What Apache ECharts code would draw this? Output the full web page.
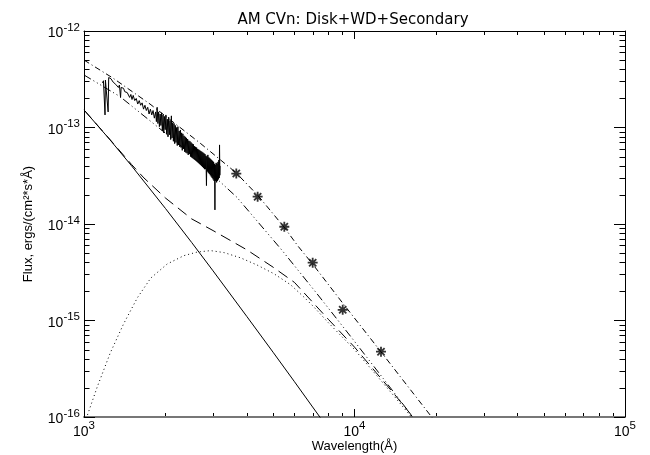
<!DOCTYPE html>
<html>
<head>
<meta charset="utf-8">
<script src="https://cdn.jsdelivr.net/npm/echarts@6/dist/echarts.min.js"></script>
<style>
html,body{margin:0;padding:0;background:#fff;}
#c{width:650px;height:455px;}
</style>
</head>
<body>
<div id="c"></div>
<script>
// ---------------- data ----------------
const titleText = 'AM CVn: Disk+WD+Secondary';
const xName = 'Wavelength(Å)';
const yName = 'Flux, ergs/(cm²*s*Å)';
const xRange = [1000, 100000];
const yRange = [1e-16, 1e-12];
const xTickExponents = [3, 4, 5];
const yTickExponents = [-16, -15, -14, -13, -12];
const minorMultipliers = [2, 3, 4, 5, 6, 7, 8, 9];

// observed spectrum (solid, noisy)
const specWave = [1170,1180,1190,1196,1200,1210,1220,1228,1234,1245,1258,1270,1282,1295,1310,1325,1340,1352,1365,1372,1385,1400,1415,1430,1445,1460,1475,1490,1505,1520,1540,1560,1580,1600,1620,1640,1660,1680,1700,1720,1740,1760,1780,1800,1820,
  1840,1852,1864,1876,1888,1900,1912,1924,1936,1948,1960,1972,1984,1996,2008,2020,2032,2044,2056,2068,2080,2092,2104,2116,2128,2140,2152,2164,2176,2188,2200,2212,2224,2236,2248,2260,2272,2284,2296,2308,2320,2332,2344,2356,2368,2380,2392,2404,2416,2428,2440,2452,2464,2476,2488,2500,2512,2524,2536,2548,2560,2572,2584,2596,2608,2620,2632,2644,2656,2668,2680,2692,2704,2716,2728,2740,2752,2764,2776,2788,2800,2812,2824,2836,2846,2858,2870,2882,2894,2906,2918,2930,2942,2954,2966,2978,2990,3002,3014,3026,3038,3048,3056,3068,3080,3092,3104,3116,3128,3140,3152,3162,3170,3178,3185];
const specFlux = [2.9e-13,3.05e-13,2.95e-13,1.35e-13,3.1e-13,3.0e-13,3.2e-13,1.45e-13,3.3e-13,3.45e-13,3.2e-13,3.3e-13,2.95e-13,3.05e-13,2.8e-13,2.85e-13,2.6e-13,2.75e-13,2.05e-13,2.6e-13,2.5e-13,2.55e-13,2.35e-13,2.45e-13,2.3e-13,2.35e-13,2.05e-13,2.2e-13,1.95e-13,2.15e-13,1.9e-13,2.0e-13,1.75e-13,1.9e-13,1.7e-13,1.8e-13,1.55e-13,1.7e-13,1.5e-13,1.62e-13,1.38e-13,1.55e-13,1.35e-13,1.5e-13,1.25e-13,
  1.45e-13,1.15e-13,1.62e-13,1.10e-13,1.45e-13,1.02e-13,1.38e-13,1.05e-13,1.42e-13,9.2e-14,1.35e-13,8.8e-14,1.3e-13,9.5e-14,1.35e-13,8.5e-14,1.22e-13,8.0e-14,1.28e-13,8.4e-14,1.18e-13,7.5e-14,1.32e-13,7.8e-14,1.12e-13,7.2e-14,1.1e-13,6.8e-14,1.05e-13,7.0e-14,1.0e-13,6.5e-14,1.02e-13,6.6e-14,9.2e-14,6.3e-14,9.4e-14,6.2e-14,8.8e-14,5.8e-14,8.6e-14,6.0e-14,8.2e-14,5.6e-14,8.0e-14,5.5e-14,7.8e-14,5.4e-14,7.6e-14,5.2e-14,7.3e-14,5.3e-14,7.2e-14,5.0e-14,7.0e-14,4.9e-14,6.8e-14,4.8e-14,6.7e-14,4.7e-14,6.4e-14,4.6e-14,6.3e-14,4.5e-14,6.2e-14,4.4e-14,6.0e-14,4.3e-14,5.9e-14,4.2e-14,5.8e-14,4.1e-14,5.7e-14,4.0e-14,5.6e-14,3.9e-14,5.5e-14,3.8e-14,5.4e-14,3.7e-14,5.3e-14,3.7e-14,5.1e-14,2.5e-14,5.0e-14,3.5e-14,5.2e-14,3.4e-14,4.9e-14,3.3e-14,4.8e-14,3.2e-14,4.7e-14,3.1e-14,4.6e-14,3.0e-14,4.5e-14,2.9e-14,4.4e-14,2.8e-14,4.2e-14,1.4e-14,4.1e-14,2.8e-14,4.3e-14,2.7e-14,4.2e-14,2.8e-14,4.4e-14,2.9e-14,4.6e-14,3.0e-14,6.6e-14,3.2e-14,4.0e-14];

// white dwarf (solid smooth)
const wdWave = [1000,1250,1500,2000,2500,3000,4000,5000,6000,7000,8000];
const wdFlux = [1.52e-13,7.41e-14,4.0e-14,1.45e-14,6.44e-15,3.27e-15,1.10e-15,4.69e-16,2.32e-16,1.27e-16,7.57e-17];

// secondary (dotted)
const secWave = [1000,1030,1120,1250,1400,1575,1765,2030,2340,2620,2940,3300,3800,4370,5040,5800,6500,7080,8000,10000,12000,14000,16000,17000];
const secFlux = [8.0e-17,1.05e-16,2.06e-16,4.6e-16,9.2e-16,1.72e-15,2.75e-15,3.85e-15,4.7e-15,5.12e-15,5.3e-15,5.05e-15,4.45e-15,3.75e-15,3.05e-15,2.35e-15,1.75e-15,1.38e-15,9.5e-16,5.0e-16,2.75e-16,1.65e-16,1.05e-16,8.3e-17];

// WD + secondary (dashed)
const wdSecWave = [1000,1250,1500,1666,2000,2500,3000,3500,4000,5000,6000,7000,8000,10000,12000,14000,16000,17000];
const wdSecFlux = [1.52e-13,7.46e-14,4.13e-14,3.0e-14,1.86e-14,1.13e-14,8.55e-15,6.68e-15,5.4e-15,3.57e-15,2.48e-15,1.55e-15,1.03e-15,5.3e-16,2.9e-16,1.74e-16,1.1e-16,8.7e-17];

// model through photometry (dash-dot)
const ddWave = [1000,1284,1754,2685,3647,4398,5489,6182,7024,9069,12531,19340,20500];
const ddFlux = [5.0e-13,3.23e-13,1.75e-13,6.9e-14,3.4e-14,1.97e-14,9.3e-15,5.9e-15,3.8e-15,1.5e-15,4.73e-16,9.9e-17,8.1e-17];

// disk model (dash-dot-dot-dot)
const dddWave = [1000,1359,2264,3669,5383,7250,9900,12780,15810,16500];
const dddFlux = [3.5e-13,2.09e-13,6.6e-14,1.9e-14,5.38e-15,1.91e-15,6.3e-16,2.5e-16,1.15e-16,9.5e-17];

// photometric points (asterisks)
const photWave = [3656,4385,5502,7005,9045,12530];
const photFlux = [3.33e-14,1.92e-14,9.37e-15,3.97e-15,1.29e-15,4.75e-16];

// ---------------- chart ----------------
const FONT = '"Liberation Sans", Arial, Helvetica, sans-serif';
const TFONT = '"DejaVu Sans", "Liberation Sans", sans-serif';
const zip = (a, b) => a.map((v, i) => [v, b[i]]);
const expOf = v => Math.round(Math.log10(v));

const rich = {
  b: {fontSize: 14, fontFamily: FONT, color: '#000', lineHeight: 19, verticalAlign: 'bottom'},
  s: {fontSize: 11.5, fontFamily: FONT, color: '#000', verticalAlign: 'top'}
};
const expLabel = v => '{b|10}{s|' + expOf(v) + '}';

function lineSeries(name, w, f, type, width) {
  return {
    name, type: 'line', data: zip(w, f), showSymbol: false, symbol: 'none',
    smooth: false, clip: true, animation: false,
    lineStyle: {color: '#000', width: width || 1, type: type}
  };
}

const axisCommonX = {
  type: 'log', logBase: 10, min: xRange[0], max: xRange[1],
  splitLine: {show: false}, minorTick: {show: false}
};
const axisCommonY = {
  type: 'log', logBase: 10, min: yRange[0], max: yRange[1],
  splitLine: {show: false}, minorTick: {show: false}
};

const option = {
  animation: false,
  backgroundColor: '#fff',
  grid: {left: 84, right: 25, top: 31, bottom: 38, containLabel: false, outerBoundsMode: 'none'},
  xAxis: [
    Object.assign({}, axisCommonX, {
      position: 'bottom',
      axisLine: {show: true, onZero: false, lineStyle: {color: '#777', width: 2}},
      axisTick: {show: true, inside: true, length: 8, lineStyle: {color: '#000', width: 1}},
      axisLabel: {show: true, margin: 3, formatter: expLabel, rich: rich, showMinLabel: true, showMaxLabel: true},
      name: xName, nameLocation: 'middle', nameGap: 23, nameMoveOverlap: false,
      nameTextStyle: {fontSize: 13, fontFamily: FONT, color: '#000'}
    }),
    Object.assign({}, axisCommonX, {
      position: 'top',
      axisLine: {show: true, onZero: false, lineStyle: {color: '#000', width: 1}},
      axisTick: {show: true, inside: true, length: 8, lineStyle: {color: '#000', width: 1}},
      axisLabel: {show: false}
    })
  ],
  yAxis: [
    Object.assign({}, axisCommonY, {
      position: 'left',
      axisLine: {show: true, onZero: false, lineStyle: {color: '#000', width: 1}},
      axisTick: {show: true, inside: true, length: 11, lineStyle: {color: '#000', width: 1}},
      axisLabel: {show: true, margin: 4, formatter: expLabel, rich: rich, showMinLabel: true, showMaxLabel: true},
      name: yName, nameLocation: 'middle', nameGap: 49, nameRotate: 90, nameMoveOverlap: false,
      nameTextStyle: {fontSize: 13, fontFamily: FONT, color: '#000'}
    }),
    Object.assign({}, axisCommonY, {
      position: 'right',
      axisLine: {show: true, onZero: false, lineStyle: {color: '#000', width: 1}},
      axisTick: {show: true, inside: true, length: 11, lineStyle: {color: '#000', width: 1}},
      axisLabel: {show: false}
    })
  ],
  series: [
    lineSeries('spectrum', specWave, specFlux, 'solid', 1),
    lineSeries('WD', wdWave, wdFlux, 'solid', 1),
    lineSeries('Secondary', secWave, secFlux, [1, 3], 1),
    lineSeries('WD+Secondary', wdSecWave, wdSecFlux, [11, 6], 1),
    lineSeries('Total', ddWave, ddFlux, [6, 3, 1, 3], 1),
    lineSeries('Disk', dddWave, dddFlux, [8, 3, 1, 3, 1, 3, 1, 3], 1),
    {
      name: 'photometry', type: 'scatter', data: zip(photWave, photFlux),
      symbol: 'path://M0,-5L0,5M-5,0L5,0M-3.6,-3.6L3.6,3.6M-3.6,3.6L3.6,-3.6',
      symbolSize: 10, animation: false,
      itemStyle: {color: 'none', borderColor: '#000', borderWidth: 1.8}
    }
  ],
  graphic: [{
    type: 'text', x: 353, y: 20,
    style: {text: titleText, fontSize: 15, fontFamily: TFONT, fill: '#000', align: 'center', verticalAlign: 'middle'}
  }]
};

const chart = echarts.init(document.getElementById('c'), null, {renderer: 'canvas'});
chart.setOption(option);

// minor ticks (IDL style, inside, on all four sides) placed through the axis scales
const xp = v => chart.convertToPixel({xAxisIndex: 0}, v);
const yp = v => chart.convertToPixel({yAxisIndex: 0}, v);
const L = xp(xRange[0]), R = xp(xRange[1]), T = yp(yRange[1]), B = yp(yRange[0]);
const g = option.graphic.slice();
function tick(x1, y1, x2, y2) {
  g.push({type: 'line', silent: true, shape: {x1, y1, x2, y2}, style: {stroke: '#000', lineWidth: 1}});
}
for (let e = xTickExponents[0]; e < xTickExponents[xTickExponents.length - 1]; e++) {
  minorMultipliers.forEach(m => {
    const x = Math.round(xp(m * Math.pow(10, e))) + 0.5;
    tick(x, B, x, B - 4);
    tick(x, T, x, T + 4);
  });
}
for (let e = yTickExponents[0]; e < yTickExponents[yTickExponents.length - 1]; e++) {
  minorMultipliers.forEach(m => {
    const y = Math.round(yp(m * Math.pow(10, e))) + 0.5;
    tick(L, y, L + 5.5, y);
    tick(R, y, R - 5.5, y);
  });
}
chart.setOption({graphic: g});
</script>
</body>
</html>
